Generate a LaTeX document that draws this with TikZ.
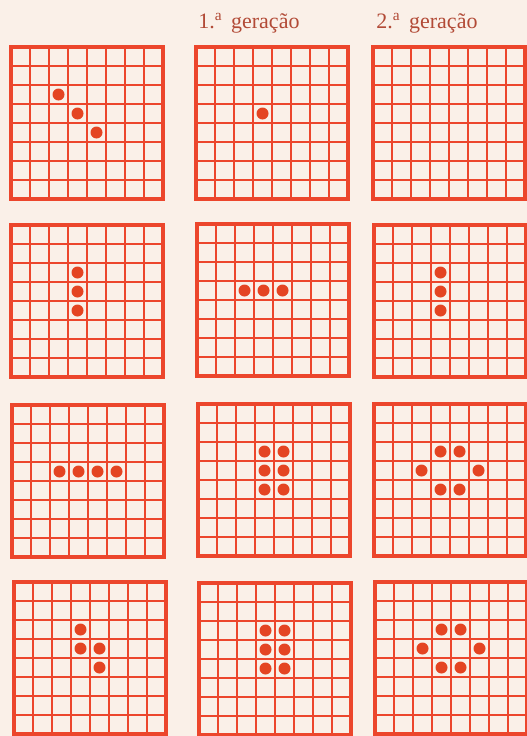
\documentclass[tikz,border=0pt]{standalone}
\usepackage{fontspec}
\setmainfont{Liberation Serif}
\usetikzlibrary{calc, positioning}

\definecolor{grelha}{RGB}{236,70,44}
\definecolor{ponto}{RGB}{228,68,34}
\definecolor{papel}{RGB}{250,240,232}
\definecolor{tinta}{RGB}{178,74,54}

% one 8x8 board: name, left, top
\newcommand\tabuleiro[3]{%
  \begin{scope}[shift={(#2,#3)}]
    \foreach \i in {1,...,7} {
      \draw[linha] (\i*19,0) -- (\i*19,152);
      \draw[linha] (0,\i*19) -- (152,\i*19);
    }
    \draw[borda] (0,0) rectangle (152,152);
    \coordinate (#1) at (0,0);
  \end{scope}}

\begin{document}
\begin{tikzpicture}[x=1pt, y=-1pt,
        linha/.style={draw=grelha, line width=2.5pt},
        borda/.style={draw=grelha, line width=3.2pt},
        celula/.style={circle, fill=ponto, inner sep=0pt, minimum size=12pt},
        titulo/.style={text=tinta, font=\fontsize{22}{26}\selectfont, anchor=base}]

        \fill[papel] (0,0) rectangle (527,736);
        \useasboundingbox (0,0) rectangle (527,736);

        \node[titulo] (g1) at (249,28) {1.\textsuperscript{a}\hspace{0.4em}geração};
        \node[titulo] (g2) at (427,28) {2.\textsuperscript{a}\hspace{0.4em}geração};

        \tabuleiro{a1}{11}{47}
        \tabuleiro{b1}{196}{47}
        \tabuleiro{c1}{373}{47}
        \tabuleiro{a2}{11}{225}
        \tabuleiro{b2}{197}{224}
        \tabuleiro{c2}{374}{225}
        \tabuleiro{a3}{12}{405}
        \tabuleiro{b3}{198}{404}
        \tabuleiro{c3}{374}{404}
        \tabuleiro{a4}{14}{582}
        \tabuleiro{b4}{199}{583}
        \tabuleiro{c4}{375}{582}

        % live cells (column/row)
        \foreach \c/\r in {2/2, 3/3, 4/4}
          \node[celula] at ($(a1)+(\c*19+9.5,\r*19+9.5)$) {};
        \node[celula] at ($(b1)+(3*19+9.5,3*19+9.5)$) {};

        \foreach \c/\r in {3/2, 3/3, 3/4}
          \node[celula] at ($(a2)+(\c*19+9.5,\r*19+9.5)$) {};
        \foreach \c/\r in {2/3, 3/3, 4/3}
          \node[celula] at ($(b2)+(\c*19+9.5,\r*19+9.5)$) {};
        \foreach \c/\r in {3/2, 3/3, 3/4}
          \node[celula] at ($(c2)+(\c*19+9.5,\r*19+9.5)$) {};

        \foreach \c/\r in {2/3, 3/3, 4/3, 5/3}
          \node[celula] at ($(a3)+(\c*19+9.5,\r*19+9.5)$) {};
        \foreach \c/\r in {3/2, 4/2, 3/3, 4/3, 3/4, 4/4}
          \node[celula] at ($(b3)+(\c*19+9.5,\r*19+9.5)$) {};
        \foreach \c/\r in {3/2, 4/2, 2/3, 5/3, 3/4, 4/4}
          \node[celula] at ($(c3)+(\c*19+9.5,\r*19+9.5)$) {};

        \foreach \c/\r in {3/2, 3/3, 4/3, 4/4}
          \node[celula] at ($(a4)+(\c*19+9.5,\r*19+9.5)$) {};
        \foreach \c/\r in {3/2, 4/2, 3/3, 4/3, 3/4, 4/4}
          \node[celula] at ($(b4)+(\c*19+9.5,\r*19+9.5)$) {};
        \foreach \c/\r in {3/2, 4/2, 2/3, 5/3, 3/4, 4/4}
          \node[celula] at ($(c4)+(\c*19+9.5,\r*19+9.5)$) {};
\end{tikzpicture}
\end{document}
